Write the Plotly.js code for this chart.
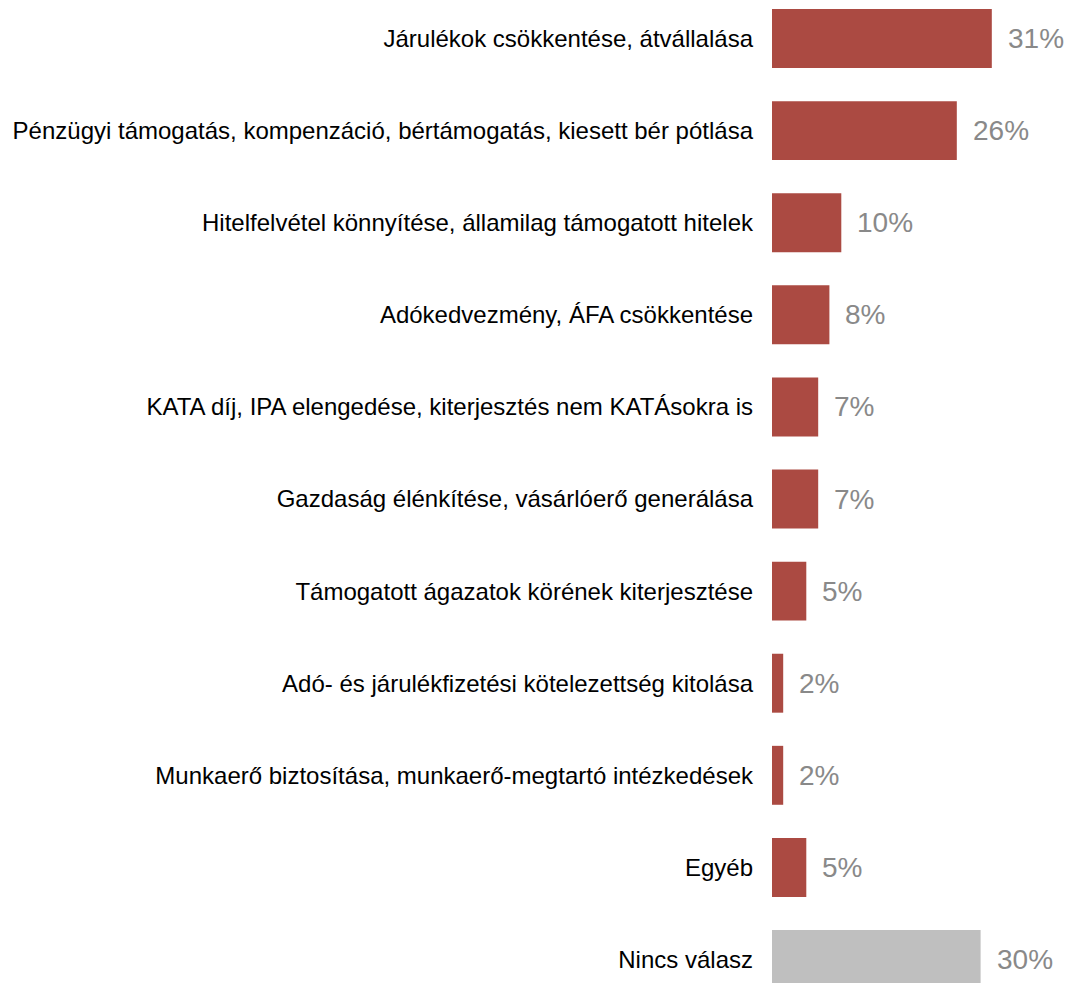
<!DOCTYPE html>
<html>
<head>
<meta charset="utf-8">
<script src="https://cdn.plot.ly/plotly-3.0.1.min.js"></script>
<style>html,body{margin:0;padding:0;background:#fff;}#chart{width:1070px;height:983px;}</style>
</head>
<body>
<div id="chart"></div>
<script>
var categories = [
  "Járulékok csökkentése, átvállalása",
  "Pénzügyi támogatás, kompenzáció, bértámogatás, kiesett bér pótlása",
  "Hitelfelvétel könnyítése, államilag támogatott hitelek",
  "Adókedvezmény, ÁFA csökkentése",
  "KATA díj, IPA elengedése, kiterjesztés nem KATÁsokra is",
  "Gazdaság élénkítése, vásárlóerő generálása",
  "Támogatott ágazatok körének kiterjesztése",
  "Adó- és járulékfizetési kötelezettség kitolása",
  "Munkaerő biztosítása, munkaerő-megtartó intézkedések",
  "Egyéb",
  "Nincs válasz"
];
var values = [31.4, 26.4, 9.9, 8.2, 6.6, 6.6, 4.9, 1.6, 1.6, 4.9, 29.8];
var valueLabels = ["31%", "26%", "10%", "8%", "7%", "7%", "5%", "2%", "2%", "5%", "30%"];
var barColors = ["#AB4A42","#AB4A42","#AB4A42","#AB4A42","#AB4A42","#AB4A42","#AB4A42","#AB4A42","#AB4A42","#AB4A42","#BFBFBF"];

var trace = {
  type: "bar",
  orientation: "h",
  x: values,
  y: categories,
  marker: {color: barColors},
  width: 0.64,
  hoverinfo: "none"
};

var annotations = categories.map(function(c, i) {
  return {
    x: values[i], y: c, xref: "x", yref: "y",
    text: valueLabels[i], showarrow: false,
    xanchor: "left", yanchor: "middle", xshift: 14,
    font: {family: "Liberation Sans, Arial, sans-serif", size: 28, color: "#898989"}
  };
});

var layout = {
  width: 1070, height: 983,
  margin: {l: 772, r: 0, t: 0, b: 0, pad: 0},
  paper_bgcolor: "#ffffff", plot_bgcolor: "#ffffff",
  showlegend: false,
  xaxis: {range: [0, 42.57], visible: false, fixedrange: true},
  yaxis: {
    type: "category",
    range: [10.255, -0.418],
    showgrid: false, zeroline: false, showline: false,
    ticks: "", ticklabelstandoff: 18,
    tickfont: {family: "Liberation Sans, Arial, sans-serif", size: 24, color: "#000000"},
    automargin: false
  },
  annotations: annotations,
  font: {family: "Liberation Sans, Arial, sans-serif"}
};

Plotly.newPlot("chart", [trace], layout, {displayModeBar: false, staticPlot: true});
</script>
</body>
</html>
